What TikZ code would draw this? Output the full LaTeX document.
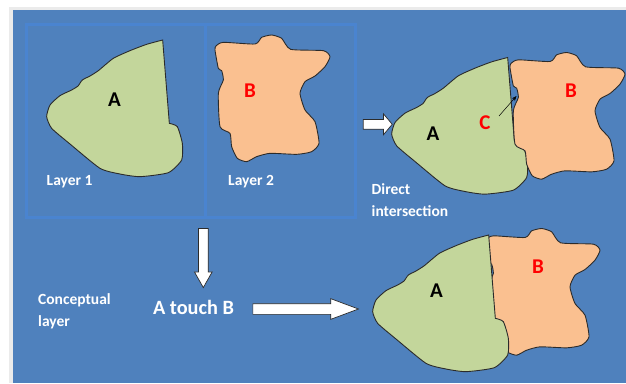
\documentclass[tikz,border=0pt]{standalone}
\usepackage{fontspec}
\setmainfont{Carlito}
\usetikzlibrary{shapes.arrows,arrows.meta}
\definecolor{bluebg}{HTML}{4F81BD}
\definecolor{gridline}{HTML}{4A84D0}
\definecolor{fillA}{HTML}{C3D69B}
\definecolor{fillB}{HTML}{FAC090}
\definecolor{edgeD}{HTML}{2B2B2B}
\def\pathA{plot[smooth,tension=.35] coordinates {(488,120)(440,133)(390,152)(340,175)(295,212)(270,228)(247,240)(234,258)(215,270)(180,287)(150,315)(140,350)(155,385)(210,432)(300,505)(360,522)(420,530)(505,518)(545,480)(547,430)(532,380)(508,370)} -- cycle}
\def\pathB{plot[smooth cycle,tension=.35] coordinates {(648,138)(670,127)(765,132)(785,112)(815,105)(845,115)(872,148)(970,152)(990,170)(975,200)(945,228)(915,245)(900,280)(915,330)(945,365)(957,430)(935,455)(890,463)(810,460)(770,470)(740,485)(712,475)(695,440)(690,400)(660,380)(655,280)(670,240)(665,212)(655,205)(645,150)}}
\tikzset{
  blobA/.style={draw=edgeD,line width=.9pt,fill=fillA},
  blobB/.style={draw=edgeD,line width=.9pt,fill=fillB},
  zoomed/.style={x=.33333pt,y=-.33333pt},
  letterK/.style={font=\fontsize{21}{21}\selectfont\bfseries,text=black},
  letterR/.style={font=\fontsize{21}{21}\selectfont\bfseries,text=red},
  whitelabel/.style={font=\fontsize{15.5}{22}\selectfont\bfseries,text=white,align=left,anchor=west,inner sep=0pt},
  blockarrow/.style={single arrow,draw=edgeD,line width=.7pt,fill=white,inner sep=0pt,outer sep=0pt},
}
\begin{document}
\begin{tikzpicture}[x=1pt,y=-1pt]
\useasboundingbox (0,0) rectangle (626,383);
\fill[white] (0,0) rectangle (626,383);
\fill[black!8] (9,7) rectangle (626,383);
\fill[bluebg] (12.5,10) rectangle (626,383);
% layer grid
\draw[gridline,line width=3pt] (26,24) rectangle (355,217);
\draw[gridline,line width=3pt] (205,24) -- (205,217);
% layer shapes
\begin{scope}[zoomed]
  \draw[blobA] \pathA;
  \draw[blobB] \pathB;
\end{scope}
% direct intersection
\begin{scope}[zoomed,xshift=345pt,yshift=-17.5pt]
  \draw[blobA] \pathA;
\end{scope}
\begin{scope}[zoomed,xshift=295pt,yshift=-17.5pt]
  \draw[blobB] \pathB;
\end{scope}
% conceptual result
\begin{scope}[zoomed,xshift=270pt,yshift=-193.5pt]
  \draw[blobB] \pathB;
\end{scope}
\begin{scope}[zoomed,xshift=326pt,yshift=-195pt]
  \draw[blobA] \pathA;
\end{scope}
% letters
\node[letterK] (a1) at (114.5,100) {A};
\node[letterR] (b1) at (250,90.5) {B};
\node[letterK] (a2) at (433,133.5) {A};
\node[letterR] (b2) at (571,91) {B};
\node[letterR] (c2) at (485,123) {C};
\node[letterK] (a3) at (436.5,290.5) {A};
\node[letterR] (b3) at (538,267) {B};
\coordinate (cgap) at (516.5,96);
\draw[-{Stealth[length=5pt,width=4pt]},black,line width=.5pt] (c2) ++(14,-7) -- (cgap);
% white labels
\node[whitelabel] (l1) at (46.5,182) {Layer 1};
\node[whitelabel] (l2) at (228,182) {Layer 2};
\node[whitelabel,text width=90pt] (di) at (371.5,200) {Direct\\intersection};
\node[whitelabel,text width=90pt] (cl) at (38,311) {Conceptual\\layer};
\node[font=\fontsize{20.3}{20}\selectfont\bfseries,text=white,inner sep=0pt] (touch) at (193.5,307) {A touch B};
% block arrows
\node[blockarrow,minimum height=29pt,single arrow head extend=5.5pt,single arrow tip angle=100] (ar1) at (375.7,124.3) {\rule{0pt}{9pt}};
\node[blockarrow,rotate=-90,minimum height=59pt,single arrow head extend=4pt,single arrow tip angle=59] (ar2) at (203.3,253.8) {\rule{0pt}{9pt}};
\node[blockarrow,minimum height=105.6pt,single arrow head extend=5pt,single arrow tip angle=41] (ar3) at (298.5,309) {\rule{0pt}{10pt}};
\end{tikzpicture}
\end{document}
